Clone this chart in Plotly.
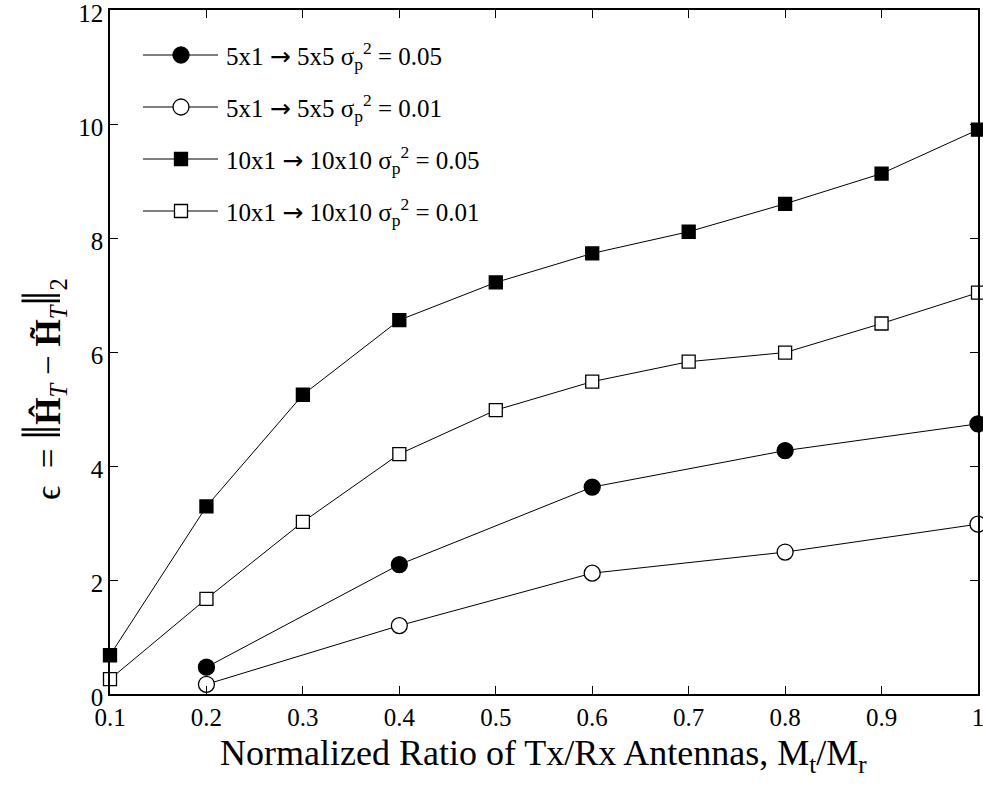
import plotly.graph_objects as go

# ---------------- data ----------------
x_5 = [0.2, 0.4, 0.6, 0.8, 1.0]
y_5_005 = [0.47, 2.27, 3.63, 4.27, 4.74]
y_5_001 = [0.17, 1.20, 2.12, 2.49, 2.98]

x_10 = [0.1, 0.2, 0.3, 0.4, 0.5, 0.6, 0.7, 0.8, 0.9, 1.0]
y_10_005 = [0.68, 3.29, 5.25, 6.56, 7.22, 7.73, 8.11, 8.60, 9.13, 9.90]
y_10_001 = [0.26, 1.67, 3.02, 4.21, 4.98, 5.48, 5.83, 5.99, 6.50, 7.04]

x_ticks = [0.1, 0.2, 0.3, 0.4, 0.5, 0.6, 0.7, 0.8, 0.9, 1.0]
x_ticklabels = ["0.1", "0.2", "0.3", "0.4", "0.5", "0.6", "0.7", "0.8", "0.9", "1"]
y_ticks = [0, 2, 4, 6, 8, 10, 12]

ARROW = "<span style='font-family:DejaVu Sans'>→</span>"
legend_labels = [
    f"5x1 {ARROW} 5x5 σ<sub>p</sub><sup>2</sup> = 0.05",
    f"5x1 {ARROW} 5x5 σ<sub>p</sub><sup>2</sup> = 0.01",
    f"10x1 {ARROW} 10x10 σ<sub>p</sub><sup>2</sup> = 0.05",
    f"10x1 {ARROW} 10x10 σ<sub>p</sub><sup>2</sup> = 0.01",
]

# ---------------- layout geometry ----------------
W, H = 983, 787
L, R, T, B = 110, 5, 10, 93
PW = W - L - R
PH = H - T - B
FONT = "Liberation Serif"


def px2x(px):
    return (px - L) / PW


def px2y(py):
    return (H - B - py) / PH


styles = [
    dict(symbol="circle", size=16, fill="black"),
    dict(symbol="circle", size=16, fill="white"),
    dict(symbol="square", size=13, fill="black"),
    dict(symbol="square", size=13, fill="white"),
]
series = [(x_5, y_5_005), (x_5, y_5_001), (x_10, y_10_005), (x_10, y_10_001)]

fig = go.Figure()
for (xs, ys), st, name in zip(series, styles, legend_labels):
    fig.add_trace(go.Scatter(
        x=xs, y=ys, mode="lines+markers", name=name, showlegend=False,
        line=dict(color="black", width=1),
        marker=dict(symbol=st["symbol"], size=st["size"], color=st["fill"],
                    line=dict(color="black", width=1.3)),
        cliponaxis=False,
    ))

# ---------------- custom legend ----------------
shapes = []
annotations = []
row_y = [55, 107, 159, 211]
for ry, st, name in zip(row_y, styles, legend_labels):
    yy = px2y(ry)
    shapes.append(dict(type="line", xref="paper", yref="paper",
                       x0=px2x(143), x1=px2x(218), y0=yy, y1=yy,
                       line=dict(color="black", width=1)))
    r = st["size"] / 2
    shapes.append(dict(type="circle" if st["symbol"] == "circle" else "rect",
                       xref="paper", yref="paper",
                       xsizemode="pixel", ysizemode="pixel",
                       xanchor=px2x(181), yanchor=yy,
                       x0=-r, x1=r, y0=-r, y1=r,
                       fillcolor=st["fill"], line=dict(color="black", width=1.3)))
    annotations.append(dict(text=name, xref="paper", yref="paper",
                            x=px2x(224), y=px2y(ry + 1), xanchor="left", yanchor="middle",
                            showarrow=False, font=dict(family=FONT, size=25, color="black")))

# y-axis title
annotations.append(dict(
    text="ϵ  = <span style='font-size:54px'>‖</span><b>Ĥ</b><sub><i>T</i></sub> − <b>H̃</b><sub><i>T</i></sub><span style='font-size:54px'>‖</span><sub>2</sub>",
    xref="paper", yref="paper", x=px2x(42), y=px2y(389),
    xanchor="center", yanchor="middle", textangle=-90, showarrow=False,
    font=dict(family=FONT, size=35, color="black")))

# x-axis title
annotations.append(dict(
    text="Normalized Ratio of Tx/Rx Antennas, M<sub>t</sub>/M<sub>r</sub>",
    xref="paper", yref="paper", x=px2x(543), y=px2y(756),
    xanchor="center", yanchor="middle", showarrow=False,
    font=dict(family=FONT, size=36, color="black")))

axis_common = dict(
    showgrid=False, zeroline=False, showline=True, linecolor="black", linewidth=1.5,
    mirror="allticks", ticks="inside", ticklen=8, tickwidth=1, tickcolor="black",
    tickfont=dict(family=FONT, size=25, color="black"),
    ticklabeloverflow="allow", automargin=False,
)

fig.update_layout(
    width=W, height=H,
    margin=dict(l=L, r=R, t=T, b=B, autoexpand=False),
    paper_bgcolor="white", plot_bgcolor="white",
    showlegend=False,
    font=dict(family=FONT, color="black"),
    xaxis=dict(range=[0.1, 1.0], tickvals=x_ticks, ticktext=x_ticklabels, **axis_common),
    yaxis=dict(range=[0, 12], tickvals=y_ticks, ticklabelshift=3, **axis_common),
    shapes=shapes,
    annotations=annotations,
)

fig.write_html("out.html")
